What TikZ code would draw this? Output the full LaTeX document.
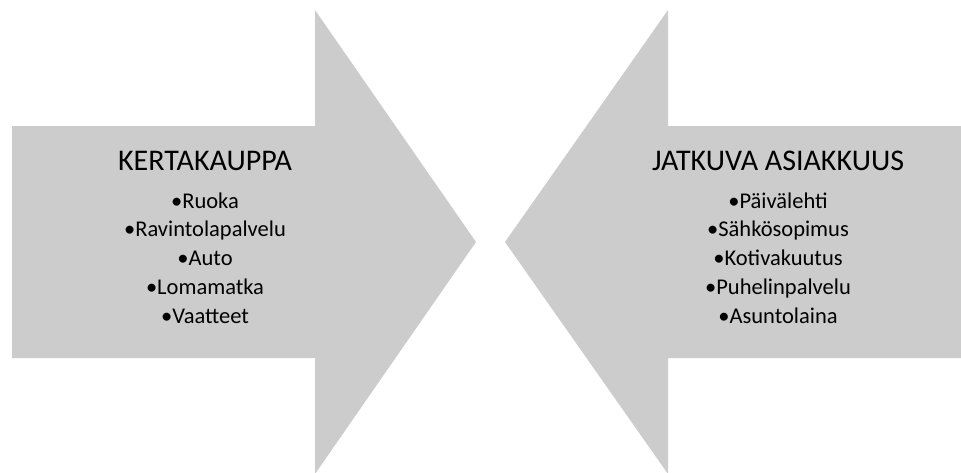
\documentclass[tikz,border=0pt]{standalone}
\usepackage{fontspec}
\setmainfont{Carlito}
\usetikzlibrary{positioning}

\begin{document}
\begin{tikzpicture}[
    x=1pt, y=-1pt,
    bigarrow/.style={fill=gray!40, draw=none},
    heading/.style={font=\fontsize{30}{32}\selectfont, inner sep=0pt, anchor=base},
    itemlist/.style={font=\fontsize{22.5}{28.7}\selectfont, align=center, inner sep=0pt}
]
\useasboundingbox (0,0) rectangle (961,472);

% Left arrow
\fill[bigarrow] (12,126) -- (315,126) -- (315,10) -- (476,242) -- (315,474)
    -- (315,358) -- (12,358) -- cycle;

% Right arrow
\fill[bigarrow] (970,126) -- (668,126) -- (668,10) -- (505,242) -- (668,474)
    -- (668,358) -- (970,358) -- cycle;

% Left text
\node[heading] (single) at (205,170) {KERTAKAUPPA};
\node[itemlist, below=22pt of single] (singlelist)
    {•Ruoka\\•Ravintolapalvelu\\•Auto\\•Lomamatka\\•Vaatteet};

% Right text
\node[heading] (ongoing) at (778,170) {JATKUVA ASIAKKUUS};
\node[itemlist, below=22pt of ongoing] (ongoinglist)
    {•Päivälehti\\•Sähkösopimus\\•Kotivakuutus\\•Puhelinpalvelu\\•Asuntolaina};

\end{tikzpicture}
\end{document}
